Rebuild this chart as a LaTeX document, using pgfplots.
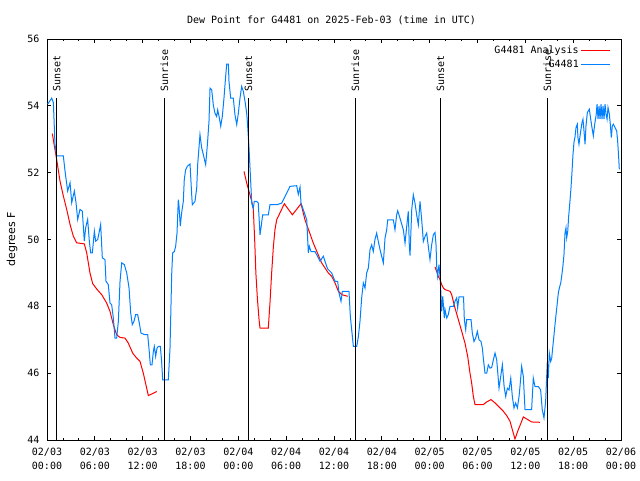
\documentclass[border=0pt]{standalone}
\usepackage{fontspec}
\setmonofont{DejaVu Sans Mono}
\setsansfont{DejaVu Sans}
\usepackage{pgfplots}
\pgfplotsset{compat=1.18}
\usepackage{pgfplotstable}
\definecolor{obsblue}{RGB}{0,128,255}
\definecolor{anared}{RGB}{255,0,0}
\newcommand{\monof}{\fontsize{10}{14}\selectfont\ttfamily}

\pgfplotstableread{
h v
0.08 54.05
0.59 54.23
0.80 54.10
1.00 52.85
1.21 52.50
2.05 52.50
2.26 52.05
2.59 51.45
2.89 51.70
3.10 51.10
3.43 51.45
3.64 51.10
3.85 50.60
4.14 50.90
4.43 50.85
4.68 49.95
4.85 50.35
5.10 50.60
5.31 49.95
5.48 49.60
5.69 49.60
5.94 50.25
6.10 49.95
6.36 50.00
6.57 50.25
6.73 50.45
6.94 49.45
7.27 49.40
7.40 48.75
7.69 48.65
7.90 48.10
8.11 48.05
8.32 47.65
8.53 47.05
8.74 47.05
8.95 47.55
9.16 48.75
9.37 49.30
9.70 49.25
10.00 49.00
10.29 48.55
10.50 47.80
10.70 47.45
10.91 47.55
11.12 47.75
11.37 47.75
11.58 47.50
11.79 47.20
12.29 47.15
12.63 47.15
12.79 46.75
12.96 46.25
13.17 46.25
13.34 46.65
13.46 46.80
13.63 46.50
13.80 46.75
13.97 46.80
14.22 46.80
14.38 46.35
14.51 45.80
15.22 45.80
15.43 46.75
15.64 48.95
15.76 49.60
15.97 49.64
16.14 49.80
16.31 50.20
16.47 51.19
16.56 51.00
16.72 50.40
16.89 50.80
17.10 51.14
17.22 51.79
17.39 52.09
17.60 52.19
17.94 52.26
18.15 51.34
18.23 51.04
18.56 51.14
18.78 51.54
18.90 52.24
19.19 53.14
19.40 52.74
19.61 52.54
19.90 52.24
20.00 52.50
20.15 52.94
20.32 53.54
20.45 54.53
20.66 54.48
20.86 54.03
21.07 53.78
21.28 53.68
21.41 53.88
21.62 53.64
21.79 53.39
21.99 53.68
22.20 54.23
22.41 54.88
22.54 55.25
22.75 55.25
22.83 54.73
23.04 54.23
23.37 54.23
23.58 53.73
23.80 53.44
24.00 53.78
24.21 54.23
24.42 54.58
24.63 54.43
24.84 54.13
25.05 53.78
25.17 53.39
25.34 52.74
25.55 51.74
25.68 51.09
25.88 50.94
26.00 51.14
26.31 51.14
26.50 51.09
26.72 50.14
26.84 50.34
27.05 50.74
27.76 50.74
27.97 51.04
28.81 51.04
29.44 51.09
30.07 51.39
30.48 51.59
31.32 51.61
31.52 51.35
31.74 51.57
31.86 51.09
32.58 50.59
32.78 49.60
32.90 49.80
33.12 49.64
33.62 49.64
34.25 49.35
34.66 49.50
35.08 49.20
35.20 49.12
35.71 49.00
35.92 48.87
36.13 48.75
36.46 48.75
36.63 48.40
36.88 48.15
37.05 48.45
37.88 48.45
38.05 47.70
38.22 47.30
38.43 46.80
38.85 46.80
39.06 47.10
39.26 47.55
39.47 48.25
39.68 48.70
39.89 48.55
40.10 49.00
40.31 49.15
40.52 49.70
40.73 49.84
40.93 49.64
41.14 50.00
41.35 50.19
41.56 49.94
41.77 49.70
41.98 49.50
42.19 49.30
42.40 50.04
42.61 50.29
42.74 50.59
43.44 50.59
43.65 50.29
43.86 50.74
43.99 50.86
44.15 50.74
44.40 50.54
44.70 50.29
44.91 49.89
45.12 50.39
45.32 50.84
45.45 49.79
45.54 49.52
45.75 50.89
45.95 51.34
46.16 51.09
46.37 50.74
46.58 50.44
46.79 51.14
47.00 50.59
47.21 49.94
47.42 50.09
47.63 50.19
47.83 49.79
48.04 49.40
48.25 49.84
48.46 50.14
48.67 50.21
48.80 49.84
48.88 49.20
49.00 48.90
49.17 49.25
49.33 48.80
49.51 47.85
49.64 48.30
49.84 47.65
49.93 47.90
50.14 47.65
50.34 47.75
50.55 48.00
50.97 48.00
51.18 48.15
51.39 48.25
51.51 47.95
51.68 48.28
52.02 48.28
52.25 48.28
52.35 47.60
52.52 47.30
52.64 47.60
53.19 47.60
53.35 47.20
53.56 46.95
53.77 47.05
53.98 47.25
54.19 47.00
54.44 46.95
54.61 46.75
54.73 46.45
54.94 46.00
55.16 46.00
55.36 46.25
55.57 46.15
55.78 46.17
55.99 46.40
56.20 46.60
56.41 46.40
56.53 46.05
56.70 45.55
56.91 45.90
57.12 46.25
57.34 45.60
57.54 45.30
57.75 45.55
57.96 45.50
58.17 45.85
58.37 45.30
58.58 44.96
58.79 45.11
59.00 44.96
59.21 45.30
59.33 45.60
59.54 46.20
59.75 45.90
59.96 44.91
60.79 44.91
61.00 45.85
61.21 45.60
61.63 45.60
61.92 45.50
62.12 44.91
62.34 44.66
62.55 45.16
62.67 45.85
62.76 46.35
62.88 45.85
63.01 46.60
63.18 46.35
63.31 46.45
63.43 46.75
63.60 47.15
63.72 47.45
63.85 47.75
64.01 48.10
64.14 48.40
64.27 48.55
64.44 48.70
64.56 48.90
64.69 49.15
64.85 49.55
64.98 50.20
65.10 50.35
65.19 50.05
65.32 50.25
65.44 50.70
65.60 51.15
65.73 51.55
65.86 52.05
65.98 52.55
66.10 52.90
66.23 53.07
66.36 53.35
66.52 53.45
66.60 53.05
66.73 52.85
66.86 53.10
66.98 53.30
67.11 53.50
67.23 53.60
67.36 53.25
67.49 52.85
67.61 53.40
67.78 53.80
68.03 53.90
68.20 53.60
68.36 53.35
68.53 53.10
68.70 53.45
68.87 53.70
69.00 54.05
69.12 53.60
69.25 54.00
69.37 53.60
69.50 54.05
69.62 53.60
69.75 54.00
69.87 53.60
70.00 54.05
70.12 53.75
70.25 53.60
70.37 53.95
70.54 53.75
70.66 53.45
70.79 53.05
70.91 53.40
71.04 53.45
71.25 53.35
71.46 53.25
71.58 52.95
71.71 52.45
71.79 52.10
}\obsdata

\pgfplotstableread{
h v
0.67 53.17
0.92 52.80
1.21 52.40
1.63 51.75
2.05 51.30
2.47 50.90
2.89 50.45
3.30 50.10
3.72 49.90
4.68 49.87
4.98 49.60
5.39 49.00
5.73 48.68
6.23 48.52
6.86 48.35
7.48 48.10
7.90 47.85
8.32 47.45
8.74 47.15
9.16 47.07
9.78 47.05
10.20 46.90
10.75 46.60
11.25 46.45
11.67 46.35
12.08 46.00
12.71 45.33
13.25 45.39
13.76 45.45
nan nan
24.71 52.04
25.05 51.69
25.34 51.44
25.68 51.14
25.88 50.90
26.05 50.00
26.20 49.00
26.40 48.20
26.60 47.60
26.72 47.35
27.76 47.35
27.97 48.10
28.18 49.00
28.40 49.80
28.60 50.30
28.81 50.59
29.77 51.07
30.78 50.74
31.86 51.07
32.36 50.59
33.41 49.89
34.45 49.30
35.29 49.00
35.71 48.90
36.13 48.70
36.55 48.45
36.97 48.35
37.72 48.30
nan nan
48.67 49.18
49.08 48.90
49.30 48.80
49.51 48.65
49.71 48.55
49.93 48.50
50.55 48.45
50.76 48.35
51.18 47.95
51.60 47.60
52.02 47.25
52.43 46.90
52.77 46.50
53.06 46.00
53.27 45.70
53.48 45.30
53.69 45.06
54.73 45.06
55.16 45.14
55.69 45.21
56.20 45.11
56.61 45.01
57.24 44.86
57.66 44.73
58.08 44.56
58.37 44.31
58.70 44.03
59.12 44.31
59.46 44.51
59.75 44.69
60.17 44.63
60.79 44.54
61.84 44.53
}\anadata

\begin{document}
\begin{tikzpicture}[x=1pt,y=1pt]
\useasboundingbox (0,0) rectangle (640,480);
\begin{axis}[
  at={(47pt,40pt)}, anchor=south west,
  width=574pt, height=401pt, scale only axis,
  xmin=0, xmax=72, ymin=44, ymax=56,
  xtick={0,6,...,72},
  minor x tick num=2,
  xticklabels={{02/03\\00:00},{02/03\\06:00},{02/03\\12:00},{02/03\\18:00},{02/04\\00:00},{02/04\\06:00},{02/04\\12:00},{02/04\\18:00},{02/05\\00:00},{02/05\\06:00},{02/05\\12:00},{02/05\\18:00},{02/06\\00:00}},
  ytick={44,46,...,56},
  xtick pos=both, ytick pos=both,
  tick align=inside,
  major tick length=4pt, minor tick length=2.5pt,
  tick style={black, line width=0.8pt},
  axis line style={black, line width=0.8pt},
  xticklabel style={font=\monof, align=center, yshift=-5pt},
  yticklabel style={font=\monof, xshift=-4pt},
  /pgf/number format/assume math mode=true,
  unbounded coords=jump,
  legend plot pos=right,
  legend cell align=right,
  legend image post style={xscale=1.7},
  legend style={draw=none, fill=none, at={(rel axis cs:1,1)}, anchor=north east,
    xshift=-10pt, yshift=-5pt, font=\monof, inner sep=0pt, row sep=1pt},
]
\addplot[anared, line width=1pt] table[x=h,y=v] {\anadata};
\addlegendentry{G4481 Analysis}
\addplot[obsblue, line width=1pt] table[x=h,y=v] {\obsdata};
\addlegendentry{G4481}
\foreach \t/\lab in {1.22/Sunset,14.72/Sunrise,25.26/Sunset,38.68/Sunrise,49.35/Sunset,62.78/Sunrise}{
  \edef\tmp{\noexpand\draw[black, line width=0.9pt] (axis cs:\t,44) -- (axis cs:\t,54.22);
  \noexpand\node[rotate=90, anchor=west, inner sep=0pt, font=\noexpand\monof] at (axis cs:\t,54.43) {\lab};}
  \tmp
}
\end{axis}
\node[font=\monof, anchor=base] at (331.5,456) {Dew Point for G4481 on 2025-Feb-03 (time in UTC)};
\node[font=\fontsize{11}{13}\selectfont\sffamily, rotate=90, anchor=base] at (15,241) {degrees F};
\end{tikzpicture}
\end{document}
